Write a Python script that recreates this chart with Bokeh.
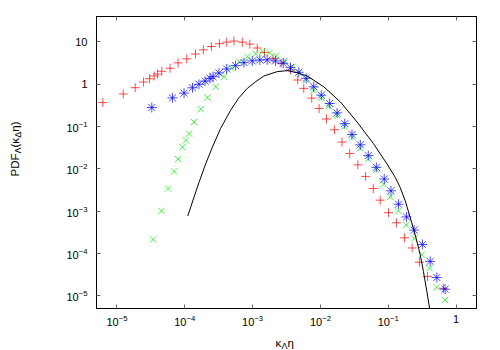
from bokeh.plotting import figure
from bokeh.models import LogAxis, FixedTicker, Label
from bokeh.layouts import row, column
from bokeh.embed import file_html
from bokeh.resources import INLINE

# ---------------- data ----------------
red_x = [6.2e-6, 1.24e-5, 1.86e-5, 2.47e-5, 3.03e-5, 3.54e-5, 3.97e-5, 4.59e-5, 6.08e-5, 7.97e-5,
         1.07e-4, 1.44e-4, 1.88e-4, 2.47e-4, 3.24e-4, 4.15e-4, 5.31e-4, 7.06e-4, 9.1e-4, 1.17e-3,
         1.5e-3, 2.01e-3, 2.64e-3, 3.62e-3, 4.63e-3, 5.68e-3, 7.44e-3, 9.57e-3, 1.23e-2, 1.61e-2,
         2.08e-2, 2.7e-2, 3.56e-2, 4.64e-2, 6.02e-2, 7.62e-2, 0.101, 0.132, 0.174, 0.225,
         0.288, 0.378, 0.65]
red_y = [0.37, 0.59, 0.83, 1.13, 1.35, 1.57, 1.75, 2.03, 2.39, 3.2,
         4.0, 5.2, 6.5, 7.8, 9.1, 9.9, 10.5, 9.9, 8.9, 7.2,
         5.6, 4.05, 3.15, 2.18, 1.26, 0.80, 0.47, 0.267, 0.151, 0.084,
         0.043, 0.0231, 0.01245, 0.00663, 0.00343, 0.00182, 9.2e-4, 5.3e-4, 2.34e-4, 1.35e-4,
         6.2e-5, 2.86e-5, 1.5e-5]

green_x = [3.42e-5, 4.54e-5, 5.68e-5, 6.96e-5, 7.97e-5, 9.24e-5, 1.04e-4, 1.16e-4, 1.37e-4, 1.72e-4,
           2.16e-4, 2.86e-4, 3.79e-4, 4.9e-4, 6.44e-4, 8.4e-4, 1.11e-3, 1.4e-3, 1.78e-3, 2.25e-3,
           2.96e-3, 3.87e-3, 4.83e-3, 6.2e-3, 7.96e-3, 1.03e-2, 1.34e-2, 1.76e-2, 2.28e-2, 2.96e-2,
           3.87e-2, 5.08e-2, 6.67e-2, 8.53e-2, 0.107, 0.1416, 0.184, 0.241, 0.313, 0.405,
           0.52, 0.689]
green_y = [2.14e-4, 1.01e-3, 3.43e-3, 8.7e-3, 0.017, 0.0325, 0.047, 0.0678, 0.128, 0.257,
           0.488, 0.871, 1.51, 2.43, 3.38, 4.44, 5.24, 5.84, 5.53, 4.69,
           3.57, 2.57, 1.9, 1.26, 0.728, 0.477, 0.303, 0.185, 0.101, 0.0562,
           0.0308, 0.0172, 0.00957, 0.00437, 0.00218, 1.01e-3, 4.7e-4, 2.26e-4, 9.4e-5, 4.5e-5,
           1.57e-5, 8.0e-6]

blue_x = [3.27e-5, 6.59e-5, 9.77e-5, 1.3e-4, 1.62e-4, 1.99e-4, 2.36e-4, 2.61e-4, 3.19e-4, 4.15e-4,
          5.62e-4, 7.45e-4, 9.9e-4, 1.28e-3, 1.64e-3, 2.18e-3, 2.83e-3, 3.62e-3, 4.8e-3, 6.17e-3,
          7.96e-3, 1.03e-2, 1.37e-2, 1.76e-2, 2.28e-2, 2.92e-2, 3.87e-2, 5.08e-2, 6.67e-2, 8.73e-2,
          0.1096, 0.1416, 0.186, 0.241, 0.319, 0.415, 0.52, 0.689]
blue_y = [0.282, 0.477, 0.617, 0.826, 1.0, 1.19, 1.38, 1.51, 1.85, 2.3,
          2.76, 3.25, 3.57, 3.77, 3.77, 3.57, 3.15, 2.47, 1.92, 1.38,
          0.871, 0.553, 0.351, 0.21, 0.117, 0.0652, 0.037, 0.0206, 0.01086, 0.00575,
          0.00303, 0.00146, 7.3e-4, 3.57e-4, 1.63e-4, 6.5e-5, 2.7e-5, 1.43e-5]

model_x = [1.107e-4, 1.62e-4, 2.04e-4, 2.58e-4, 3.38e-4, 4.75e-4, 6.22e-4, 8.36e-4, 1.11e-3, 1.47e-3,
           2.31e-3, 3.24e-3, 4.54e-3, 6.37e-3, 1.12e-2, 1.97e-2, 3.47e-2, 6.08e-2, 9.57e-2, 0.127,
           0.15, 0.178, 0.211, 0.249, 0.296, 0.33, 0.371, 0.415]
model_y = [7.7e-4, 4.77e-3, 0.0133, 0.0338, 0.0906, 0.243, 0.469, 0.80, 1.15, 1.57,
           1.99, 2.1, 1.88, 1.57, 0.871, 0.383, 0.128, 0.0392, 0.0131, 6.28e-3,
           3.63e-3, 1.75e-3, 7.0e-4, 2.82e-4, 9.4e-5, 3.77e-5, 1.26e-5, 4.2e-6]

x_ticks = [1e-5, 1e-4, 1e-3, 1e-2, 1e-1, 1.0]
y_ticks = [1e-5, 1e-4, 1e-3, 1e-2, 1e-1, 1.0, 10.0]
x_limits = (5e-6, 2.0)
y_limits = (5e-6, 40.0)

FONT = "Liberation Sans"

# ---------------- main plot ----------------
p = figure(width=460, height=330, x_axis_type="log", y_axis_type="log",
           x_range=x_limits, y_range=y_limits,
           output_backend="svg", toolbar_location=None,
           min_border_left=56, min_border_right=24, min_border_top=16, min_border_bottom=22)
p.background_fill_color = "white"
p.border_fill_color = "white"
p.outline_line_color = "black"
p.outline_line_width = 1
p.xgrid.visible = False
p.ygrid.visible = False

def style_axis(ax, ticks, labels=True):
    ax.ticker = FixedTicker(ticks=ticks, minor_ticks=[])
    ax.major_tick_in = 4
    ax.major_tick_out = 0
    ax.minor_tick_line_color = None
    ax.major_tick_line_color = "#666666"
    ax.axis_line_color = "black"
    ax.major_label_text_font = FONT
    ax.major_label_text_font_size = "11px"
    if labels:
        ax.major_label_text_color = "black"
    else:
        ax.major_label_text_color = None
        ax.major_label_standoff = 0

style_axis(p.xaxis[0], x_ticks)
style_axis(p.yaxis[0], y_ticks)
p.xaxis[0].major_label_standoff = 6
p.yaxis[0].major_label_standoff = 9
p.xaxis[0].major_label_overrides = {1.0: "1"}
p.yaxis[0].major_label_overrides = {1.0: "1", 10.0: "10"}

top_ax = LogAxis()
style_axis(top_ax, x_ticks, labels=False)
p.add_layout(top_ax, "above")
right_ax = LogAxis()
style_axis(right_ax, y_ticks, labels=False)
p.add_layout(right_ax, "right")

p.scatter(red_x, red_y, marker="cross", size=9, line_color="#ff0000", line_alpha=0.7, line_width=1)
p.scatter(green_x, green_y, marker="x", size=9, line_color="#00ee00", line_alpha=0.75, line_width=1)
p.scatter(blue_x, blue_y, marker="asterisk", size=10, line_color="#0000ff", line_alpha=0.7, line_width=1)
p.line(model_x, model_y, line_color="black", line_width=1)

# ---------------- title strips (text with subscripts) ----------------
def strip(w, h):
    f = figure(width=w, height=h, output_backend="svg", toolbar_location=None,
               x_axis_location=None, y_axis_location=None,
               min_border=0, min_border_left=0, min_border_right=0,
               min_border_top=0, min_border_bottom=0)
    f.outline_line_color = None
    f.background_fill_color = "white"
    f.border_fill_color = "white"
    return f

def add_text(fig, txt, x, y, size, angle=0.0):
    fig.add_layout(Label(x=x, y=y, x_units="screen", y_units="screen", text=txt,
                         text_font=FONT, text_font_size=size, angle=angle, angle_units="deg",
                         text_align="left", text_baseline="alphabetic", text_color="black"))

# y title: PDF_Λ(κ_Δ η), reading upwards
yt = strip(40, 330)
add_text(yt, "PDF", 14.5, 132, "11.5px", 90)
add_text(yt, "Λ", 17.5, 155, "9px", 90)
add_text(yt, "(κ", 14.5, 161, "11.5px", 90)
add_text(yt, "Δ", 17.5, 170.8, "9px", 90)
add_text(yt, "η)", 14.5, 176.8, "11.5px", 90)

# x title: κ_Λ η
xt = strip(500, 20)
add_text(xt, "κ", 275, 8, "11.5px")
add_text(xt, "Λ", 281, 5, "9px")
add_text(xt, "η", 287, 8, "11.5px")

layout = column(row(yt, p, spacing=0), xt, spacing=0)

open("out.html", "w").write(file_html(layout, INLINE))
